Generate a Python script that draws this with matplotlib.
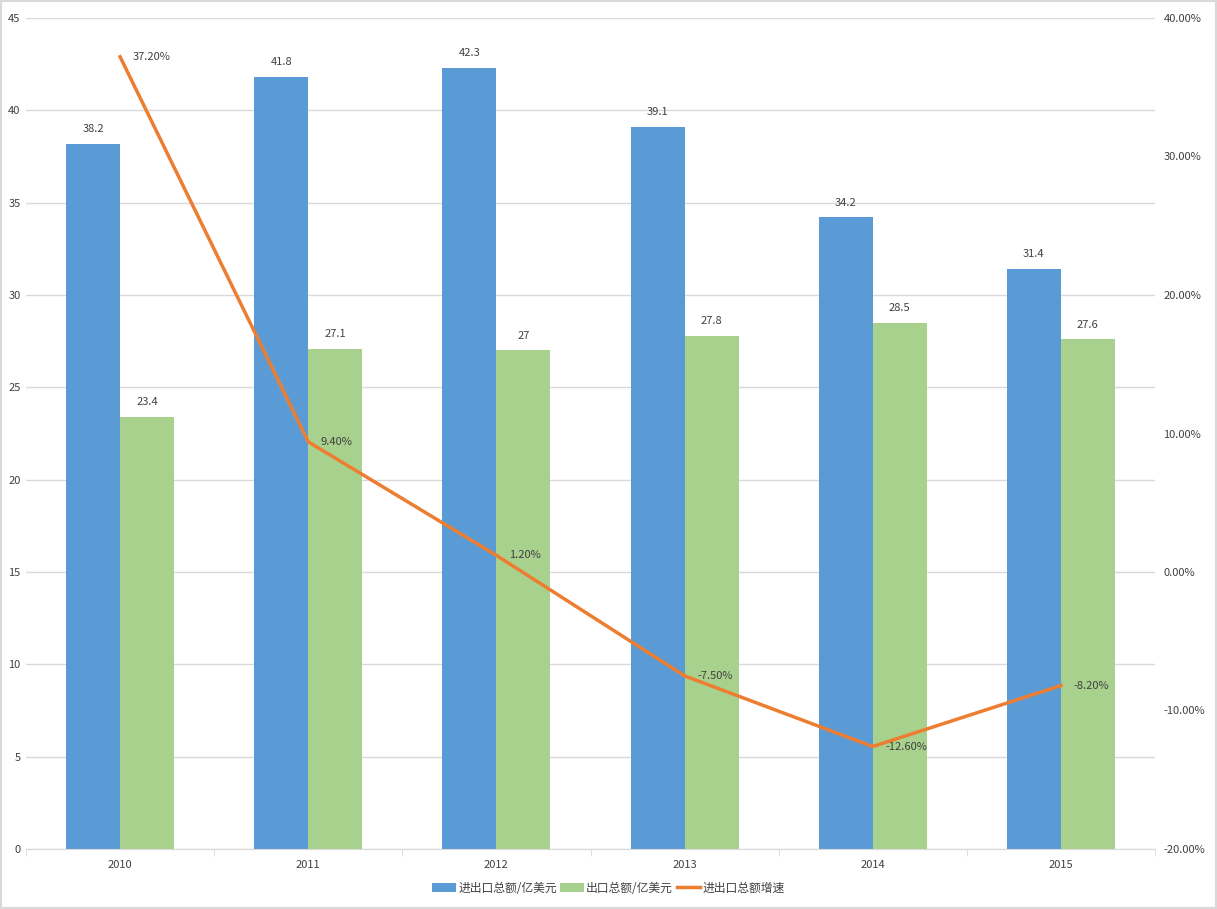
import matplotlib
matplotlib.use('Agg')
import matplotlib.pyplot as plt
import numpy as np
from matplotlib.patches import Rectangle

plt.rcParams['font.family'] = ['Noto Sans CJK SC', 'DejaVu Sans']

years = ['2010', '2011', '2012', '2013', '2014', '2015']
total = [38.2, 41.8, 42.3, 39.1, 34.2, 31.4]
export = [23.4, 27.1, 27.0, 27.8, 28.5, 27.6]
growth = [37.2, 9.4, 1.2, -7.5, -12.6, -8.2]

blue = '#5B9BD5'
green = '#A9D18E'
orange = '#ED7D31'
txt = '#404040'
grid = '#D9D9D9'

fig = plt.figure(figsize=(12.17, 9.09), dpi=100)
ax = fig.add_axes([26 / 1217, 60 / 909, 1129 / 1217, 831 / 909])
ax2 = ax.twinx()

x = np.arange(len(years))
w = 0.287
b1 = ax.bar(x - w / 2, total, w, color=blue, label='进出口总额/亿美元', zorder=2)
b2 = ax.bar(x + w / 2, export, w, color=green, label='出口总额/亿美元', zorder=2)
for xi, v in zip(x, total):
    ax.text(xi - w / 2, v + 0.8, f'{v:g}', ha='center', va='center', fontsize=8, color=txt)
for xi, v in zip(x, export):
    ax.text(xi + w / 2, v + 0.8, f'{v:g}', ha='center', va='center', fontsize=8, color=txt)

ax.set_ylim(0, 45)
ax.set_yticks(np.arange(0, 46, 5))
ax.set_xlim(-0.5, 5.5)
ax.set_xticks(x)
ax.set_xticklabels(years)
ax.set_xticks(np.arange(-0.5, 6, 1), minor=True)
ax.tick_params(axis='x', which='major', length=0, pad=8, labelsize=8, labelcolor=txt)
ax.tick_params(axis='x', which='minor', length=5, color=grid)
ax.tick_params(axis='y', length=0, pad=4, labelsize=8, labelcolor=txt)
ax.grid(axis='y', color=grid, linewidth=1, zorder=0)
ax.set_axisbelow(True)
for s in ['top', 'left', 'right']:
    ax.spines[s].set_visible(False)
ax.spines['bottom'].set_color(grid)

l1, = ax2.plot(x, growth, color=orange, linewidth=2.5, label='进出口总额增速', zorder=3)
for xi, v in zip(x, growth):
    ax2.annotate(f'{v:.2f}%', (xi, v), xytext=(9, 0), textcoords='offset points',
                 ha='left', va='center', fontsize=8, color=txt)
ax2.set_ylim(-20, 40)
ax2.set_yticks(np.arange(-20, 41, 10))
ax2.set_yticklabels([f'{t:.2f}%' for t in np.arange(-20, 41, 10)])
ax2.tick_params(axis='y', length=0, pad=6, labelsize=8, labelcolor=txt)
for s in ax2.spines.values():
    s.set_visible(False)

handles = [b1, b2, l1]
fig.legend(handles, [h.get_label() for h in handles], loc='center', bbox_to_anchor=(0.5, 21 / 909),
           ncol=3, frameon=False, fontsize=8.5, labelcolor=txt, handlelength=2.0,
           columnspacing=0.3, handletextpad=0.2)

fig.patches.append(Rectangle((0.0008, 0.001), 0.9984, 0.998, transform=fig.transFigure,
                             fill=False, edgecolor=grid, linewidth=1.5))

fig.savefig('out.png', dpi=100)
